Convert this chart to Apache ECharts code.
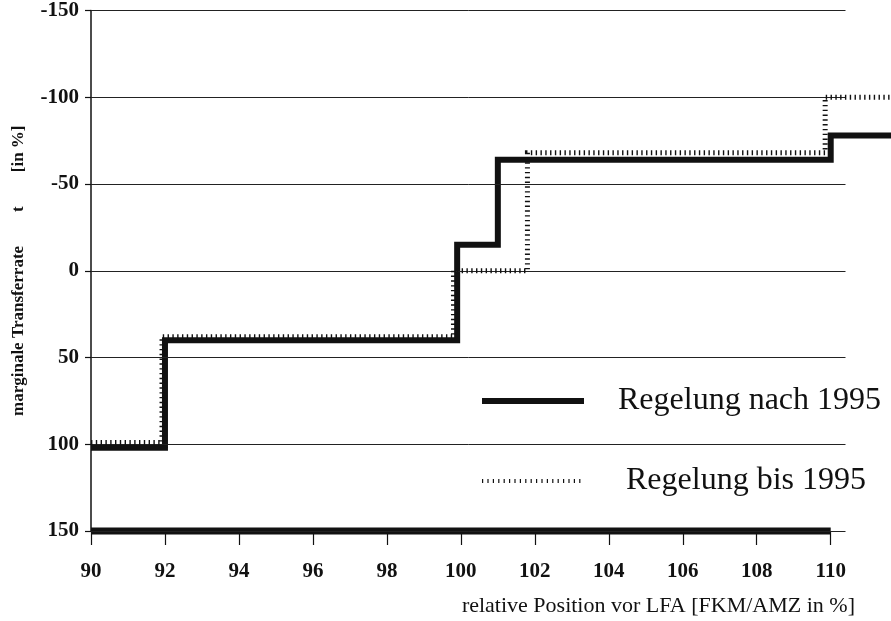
<!DOCTYPE html>
<html><head><meta charset="utf-8">
<script src="https://cdn.jsdelivr.net/npm/echarts@6/dist/echarts.min.js"></script>
<style>html,body{margin:0;padding:0;background:#fff}#c{width:891px;height:621px}</style>
</head><body><div id="c"></div>
<script>
// x ticks (relative position, %) and y ticks (marginal transfer rate, %)
const xTicks = [90, 92, 94, 96, 98, 100, 102, 104, 106, 108, 110];
const yTicks = [-150, -100, -50, 0, 50, 100, 150];
// "Regelung nach 1995" step positions and rates
const stepsNach = [90, 92, 99.9, 101, 110, 111.63];
const rateNach = [102, 40, -15, -64, -78, -78];
// "Regelung bis 1995" step positions and rates
const stepsBis = [90, 91.92, 99.8, 101.8, 109.85, 111.63];
const rateBis = [99, 38, 0, -68, -100, -100];
// thick base line at 150
const baseX = [90, 110];
const baseY = [150, 150];
// extent of the horizontal grid lines
const gridX = [90, 110.4];

const pair = (xs, ys) => xs.map((x, i) => [x, ys[i]]);
const FONT = '"Liberation Serif", "Times New Roman", serif';

const chart = echarts.init(document.getElementById('c'), null, {renderer: 'canvas'});
chart.setOption({
  animation: false,
  backgroundColor: '#fff',
  grid: {left: 91, right: 0, top: 9, bottom: 90, containLabel: false},
  xAxis: {
    type: 'value', min: 90, max: 111.63, interval: 2,
    position: 'bottom',
    name: 'relative Position vor LFA [FKM/AMZ in %]',
    nameLocation: 'end', nameGap: 0,
    nameTextStyle: {fontFamily: FONT, fontSize: 22, color: '#111', align: 'right', verticalAlign: 'top', padding: [64, 36, 0, 0]},
    axisLine: {show: false, onZero: false},
    axisTick: {show: true, length: 14, customValues: xTicks, lineStyle: {color: '#111', width: 1.2}},
    axisLabel: {customValues: xTicks, margin: 30, fontFamily: FONT, fontSize: 21, fontWeight: 'bold', color: '#111'},
    splitLine: {show: false}
  },
  yAxis: {
    type: 'value', inverse: true, min: -150, max: 150, interval: 50,
    name: 'marginale Transferrate        t        [in %]',
    nameLocation: 'middle', nameGap: 64, nameRotate: 90,
    nameTextStyle: {fontFamily: FONT, fontSize: 17, fontWeight: 'bold', color: '#111'},
    axisLine: {show: true, lineStyle: {color: '#111', width: 1.5}},
    axisTick: {show: true, length: 6, lineStyle: {color: '#111', width: 1.2}},
    axisLabel: {margin: 12, fontFamily: FONT, fontSize: 21, fontWeight: 'bold', color: '#111'},
    splitLine: {show: false}
  },
  legend: {
    orient: 'vertical', left: 474, top: 380,
    itemWidth: 102, itemHeight: 32, itemGap: 48,
    itemStyle: {opacity: 0, borderWidth: 0},
    data: [
      {name: 'Regelung nach 1995', lineStyle: {width: 6, color: '#111', type: 'solid'}},
      {name: 'Regelung bis 1995', lineStyle: {width: 4, color: '#111', type: [1.2, 4.2]}}
    ],
    formatter: n => n === 'Regelung bis 1995' ? '{b|' + n + '}' : '{a|' + n + '}',
    textStyle: {
      fontFamily: FONT, fontSize: 32, color: '#111', lineHeight: 32,
      rich: {
        a: {fontFamily: FONT, fontSize: 32, color: '#111', padding: [0, 0, 0, 29]},
        b: {fontFamily: FONT, fontSize: 32, color: '#111', padding: [0, 0, 0, 37]}
      }
    },
    selectedMode: false
  },
  series: [
    {
      name: 'Basis', type: 'line', data: pair(baseX, baseY), symbol: 'none', clip: false,
      lineStyle: {color: '#111', width: 7, cap: 'butt'}, silent: true, z: 3,
      markLine: {
        silent: true, symbol: ['none', 'none'], label: {show: false}, animation: false,
        lineStyle: {color: '#222', width: 1, type: 'solid'},
        emphasis: {disabled: true},
        data: yTicks.map(y => [{coord: [gridX[0], y]}, {coord: [gridX[1], y]}])
      }
    },
    {
      name: 'Regelung nach 1995', type: 'line', step: 'end', data: pair(stepsNach, rateNach),
      symbol: 'none', clip: false,
      lineStyle: {color: '#111', width: 6, cap: 'butt', join: 'miter'}, z: 4
    },
    {
      name: 'Regelung bis 1995', type: 'line', step: 'end', data: pair(stepsBis, rateBis),
      symbol: 'none', clip: false,
      lineStyle: {color: '#111', width: 5, type: [1.4, 3.4], cap: 'butt', join: 'miter'}, z: 5
    }
  ]
});
</script>
</body></html>
